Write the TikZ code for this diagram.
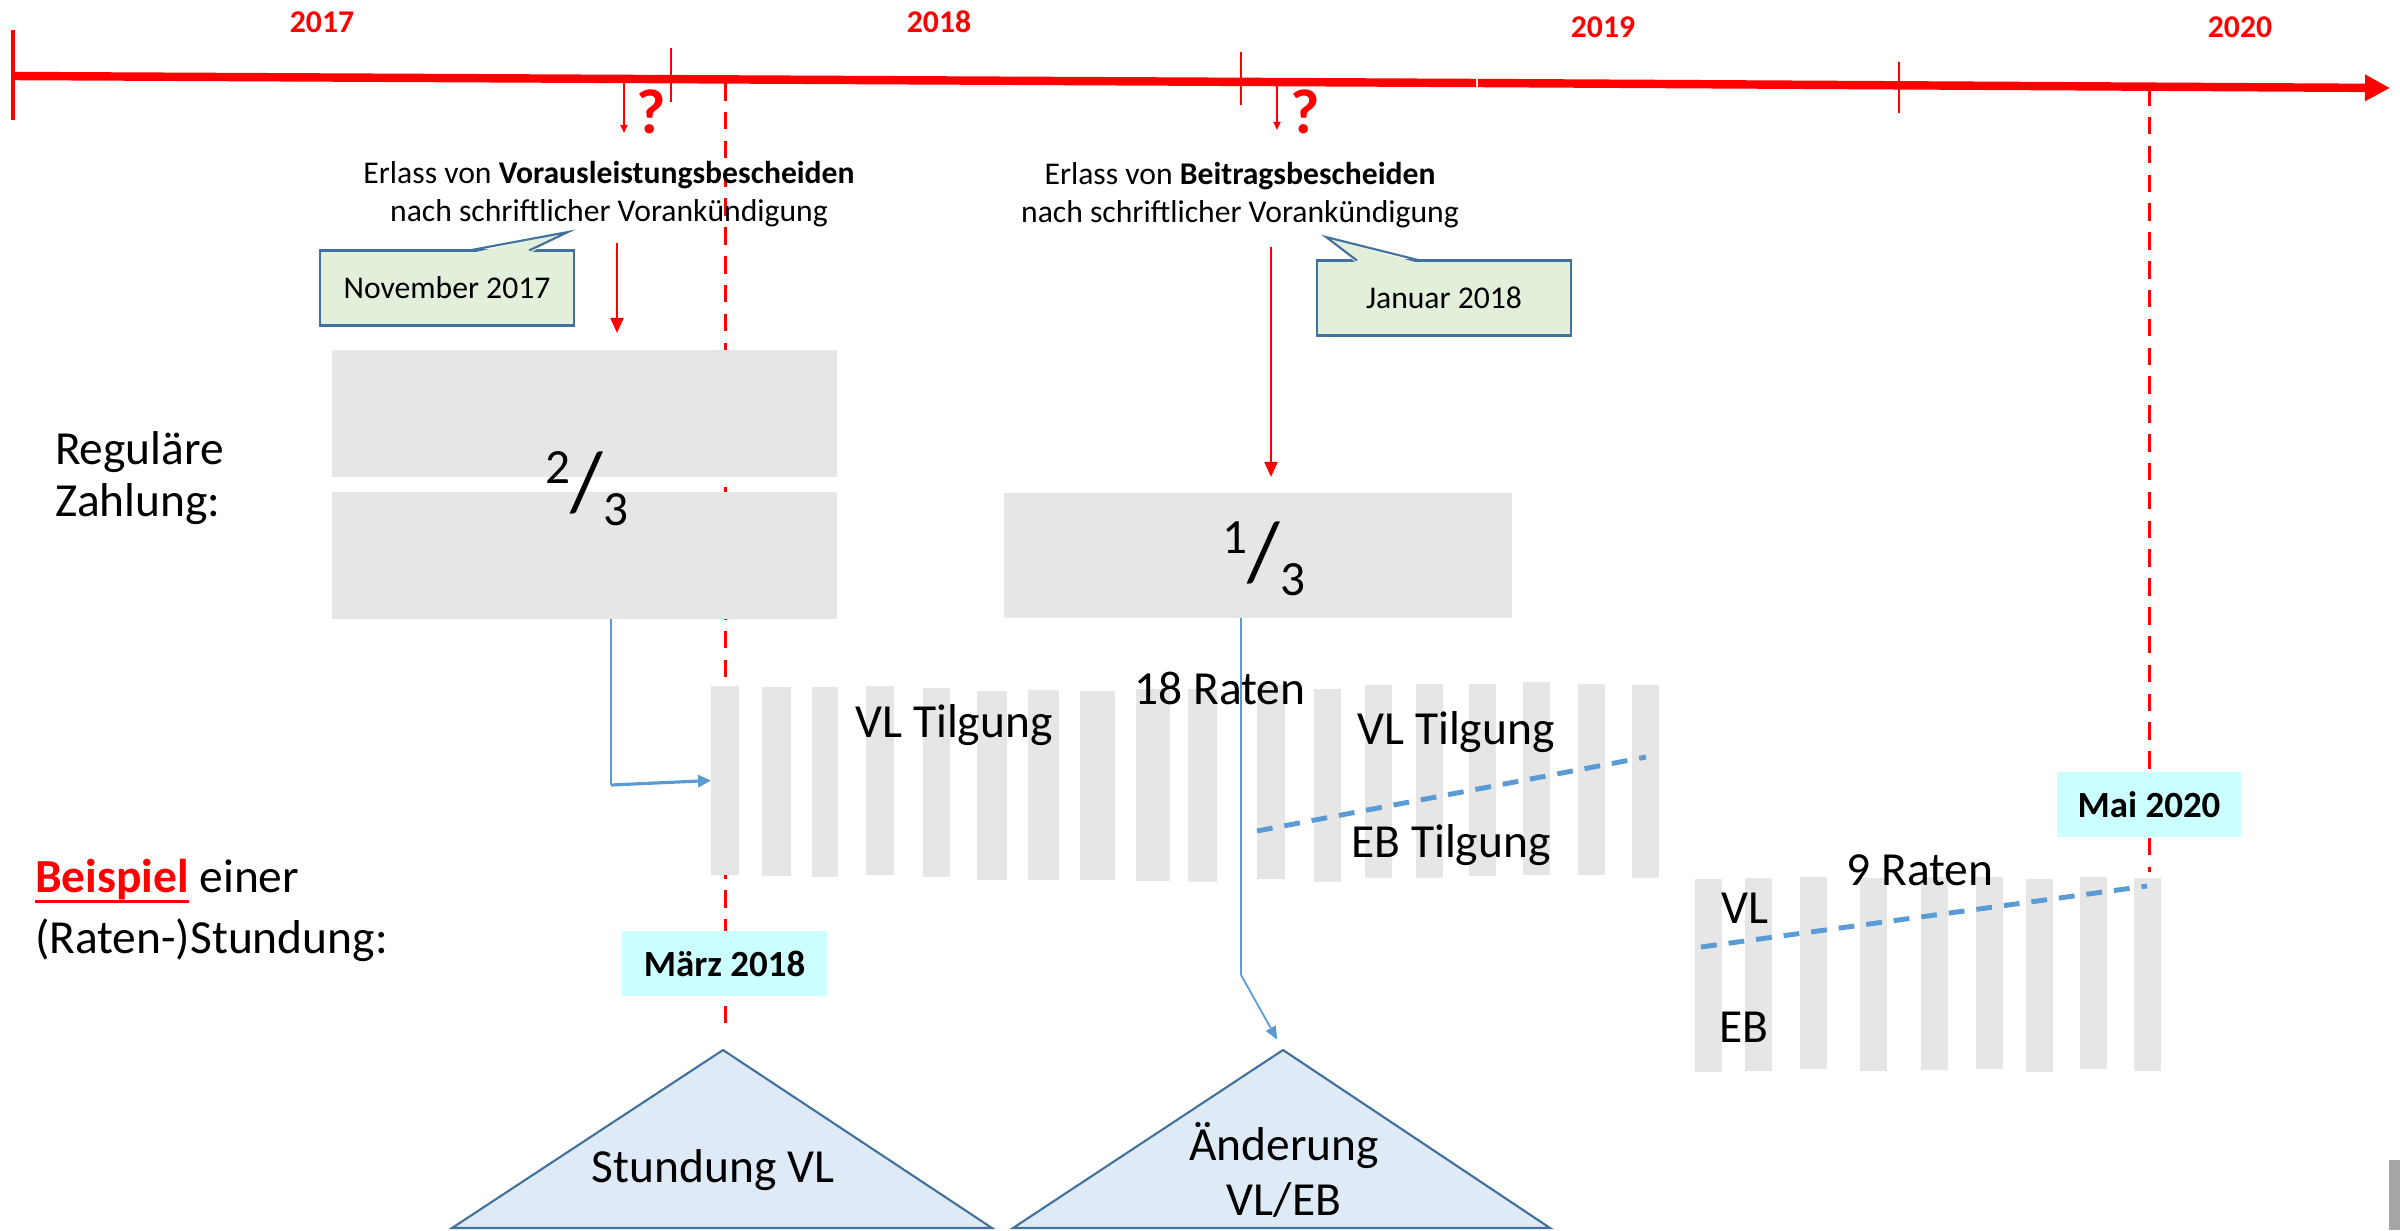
\documentclass[tikz,border=0pt]{standalone}
\usepackage{fontspec}
\setmainfont{Carlito}
\usetikzlibrary{arrows.meta}
\definecolor{PlanRed}{RGB}{255,0,0}
\definecolor{PlanGrey}{RGB}{230,230,230}
\definecolor{PlanGreen}{RGB}{226,239,218}
\definecolor{PlanFrame}{RGB}{65,113,156}
\definecolor{PlanSky}{RGB}{222,235,247}
\definecolor{PlanCyan}{RGB}{204,255,255}
\definecolor{PlanBlue}{RGB}{91,155,213}
\definecolor{PlanScroll}{RGB}{166,166,166}
\newcommand\PlanLarge{\fontsize{13.5}{15}\selectfont}
\newcommand\PlanSmall{\fontsize{9}{10.8}\selectfont}
\newcommand\PlanShare[2]{{\fontsize{14}{14}\selectfont\raisebox{7.6pt}{#1}}{\fontsize{24}{24}\selectfont/}{\fontsize{14}{14}\selectfont\raisebox{-4.3pt}{#2}}}
\newsavebox\PlanBox
\newcommand\PlanMark[1]{\sbox\PlanBox{#1}\rlap{\rule[-3.2pt]{\wd\PlanBox}{1pt}}\usebox\PlanBox}
\tikzset{
    plan/diagram/.style={
        x=0.01cm, y=-0.01cm,
        line cap=butt,
        every node/.style={inner sep=0pt, outer sep=0pt}
    },
    plan/axis/.style={draw=PlanRed, line width=2.4pt},
    plan/tick/.style={draw=PlanRed, line width=0.6pt},
    plan/due/.style={draw=PlanRed, line width=0.85pt, dash pattern=on 5pt off 3.2pt},
    plan/pin/.style={
        draw=PlanRed, line width=0.5pt,
        -{Triangle[length=0.08cm, width=0.07cm]}
    },
    plan/pointer/.style={
        draw=PlanRed, line width=0.6pt,
        -{Triangle[length=0.15cm, width=0.13cm]}
    },
    plan/year/.style={text=PlanRed, font=\fontsize{9}{10}\selectfont\bfseries},
    plan/query/.style={text=PlanRed, font=\fontsize{18}{19}\selectfont\bfseries},
    plan/note/.style={align=center, font=\PlanSmall},
    plan/callout/.style={
        fill=PlanGreen, draw=PlanFrame, line width=0.6pt,
        minimum width=2.54cm, minimum height=0.75cm, font=\PlanSmall
    },
    plan/frame/.style={draw=PlanFrame, line width=0.6pt, line join=miter},
    plan/share/.style={fill=PlanGrey, minimum width=5.05cm, minimum height=1.27cm},
    plan/bar/.style={fill=PlanGrey},
    plan/label/.style={font=\PlanLarge},
    plan/stamp/.style={
        fill=PlanCyan, minimum height=0.65cm,
        font=\fontsize{10.5}{12}\selectfont\bfseries
    },
    plan/wedge/.style={fill=PlanSky, draw=PlanFrame, line width=0.6pt, line join=miter},
    plan/link/.style={draw=PlanBlue, line width=0.35pt},
    plan/linkarrow/.style={
        draw=PlanBlue, line width=0.9pt,
        -{Triangle[length=0.13cm, width=0.12cm]}
    },
    plan/split/.style={draw=PlanBlue, line width=1.4pt, dash pattern=on 4.5pt off 3.4pt}
}

\begin{document}
\begin{tikzpicture}[plan/diagram]
    \useasboundingbox (0,0) rectangle (2400,1230);
    % time axis
    \draw[plan/axis] (13,76) -- (1476,83);
    \draw[plan/axis, -{Triangle[length=0.25cm, width=0.25cm]}] (1478,83) -- (2390,88);
    \draw[plan/tick, line width=1.2pt] (13,30) -- (13,120);
    \draw[plan/tick] (671,48) -- (671,102);
    \draw[plan/tick] (1241,52) -- (1241,105);
    \draw[plan/tick] (1899,62) -- (1899,113);
    \node[plan/year] (y2017) at (322,22) {2017};
    \node[plan/year] (y2018) at (939,22) {2018};
    \node[plan/year] (y2019) at (1603,27) {2019};
    \node[plan/year] (y2020) at (2240,27) {2020};
    % due dates
    \draw[plan/due] (725,83) -- (725,1025);
    \draw[plan/due] (2149,88) -- (2149,872);
    \draw[plan/pin] (624,82) -- (624,133);
    \node[plan/query] (askVor) at (651,112) {?};
    \draw[plan/pin] (1277,85) -- (1277,130);
    \node[plan/query] (askBei) at (1305,112) {?};
    % notices
    \node[plan/note] (vorNote) at (609,194)
        {Erlass von \textbf{Vorausleistungsbescheiden}\\nach schriftlicher Vorankündigung};
    \node[plan/note] (beiNote) at (1240,195)
        {Erlass von \textbf{Beitragsbescheiden}\\nach schriftlicher Vorankündigung};
    \node[plan/callout] (novCall) at (447,288) {November 2017};
    \fill[PlanGreen] ([xshift=1.49cm, yshift=-0.03cm]novCall.north west) -- (568,232)
        -- ([xshift=2.09cm, yshift=-0.03cm]novCall.north west) -- cycle;
    \draw[plan/frame] ([xshift=1.49cm]novCall.north west) -- (568,232)
        -- ([xshift=2.09cm]novCall.north west);
    \node[plan/callout] (janCall) at (1444,298) {Januar 2018};
    \fill[PlanGreen] ([xshift=0.40cm, yshift=-0.03cm]janCall.north west) -- (1326,237)
        -- ([xshift=1.03cm, yshift=-0.03cm]janCall.north west) -- cycle;
    \draw[plan/frame] ([xshift=0.40cm]janCall.north west) -- (1326,237)
        -- ([xshift=1.03cm]janCall.north west);
    % regular payment
    \node[plan/share] (shareTop) at (584.5,413.5) {};
    \node[plan/share] (shareLow) at (584.5,555.5) {};
    \node[plan/share, minimum width=5.08cm, minimum height=1.25cm] (shareThird) at (1258,555.5) {};
    \node (twoThirds) at (587,489) {\PlanShare{2}{3}};
    \node (oneThird) at (1264,559) {\PlanShare{1}{3}};
    \coordinate (vorDrop) at (617,243);
    \draw[plan/pointer, shorten >=0.17cm] (vorDrop) -- (vorDrop |- shareTop.north);
    \coordinate (beiDrop) at (1271,247);
    \draw[plan/pointer, shorten >=0.16cm] (beiDrop) -- (beiDrop |- shareThird.north);
    \node[plan/label, anchor=west, align=left] (regular) at (55,478) {Reguläre\\Zahlung:};
    \node[plan/label, anchor=west, align=left, font=\fontsize{13.5}{17.3}\selectfont] (example) at (35,910)
        {\textcolor{PlanRed}{\PlanMark{\textbf{Beispiel}}} einer\\(Raten-)Stundung:};
    % instalments
    \foreach \x/\w/\t/\b [count=\i] in {711/28/686/875, 762/29/687/876, 812/26/687/877,
        866/28/686/875, 923/27/688/877, 977/30/691/880, 1028/31/690/880, 1080/35/691/880,
        1136/34/689/881, 1188/29/689/882, 1257/28/685/879, 1314/27/689/882, 1365/27/685/878,
        1416/27/684/878, 1469/27/684/876, 1523/27/682/875, 1578/27/684/875, 1632/27/685/878}
        \node[plan/bar, minimum width=\w*0.01cm, minimum height={(\b-\t)*0.01cm}]
            (vl\i) at ({\x+\w/2},{(\t+\b)/2}) {};
    \foreach \x/\t/\b [count=\i] in {1695/879/1072, 1745/878/1071, 1800/877/1069,
        1860/878/1071, 1921/877/1070, 1976/877/1069, 2026/879/1072, 2080/877/1069, 2134/878/1071}
        \node[plan/bar, minimum width=0.27cm, minimum height={(\b-\t)*0.01cm}]
            (rate\i) at ({\x+13.5},{(\t+\b)/2}) {};
    \node[plan/label] (vlFirst) at (954,725) {VL Tilgung};
    \node[plan/label] (rateCount) at (1220,688) {18 Raten};
    \node[plan/label] (vlSecond) at (1456,732) {VL Tilgung};
    \node[plan/label] (ebSecond) at (1451,845) {EB Tilgung};
    \draw[plan/split] (1257,831) -- (1646,757);
    \node[plan/label] (rateShort) at (1920,870) {9 Raten};
    \node[plan/label] (vlShort) at (1745,908) {VL};
    \node[plan/label] (ebShort) at (1744,1027) {EB};
    \draw[plan/split] (1701,947) -- (2147,886);
    \node[plan/stamp, minimum width=2.05cm] (marchStamp) at (724.5,963.5) {März 2018};
    \node[plan/stamp, minimum width=1.84cm] (mayStamp) at (2149,804.5) {Mai 2020};
    % deferral
    \coordinate (stuTop) at (723,1050);
    \draw[plan/wedge] (stuTop) -- ++(-271,178) -- ++(540,0) -- cycle;
    \node[plan/label] (stuText) at (713,1170) {Stundung VL};
    \coordinate (aenTop) at (1283,1050);
    \draw[plan/wedge] (aenTop) -- ++(-270,178) -- ++(537,0) -- cycle;
    \node[plan/label, align=center, font=\fontsize{13.5}{15.9}\selectfont] (aenText) at (1284,1170)
        {Änderung\\VL/EB};
    \coordinate (vlBend) at (611,785);
    \draw[plan/link] (shareLow.south -| vlBend) -- (vlBend);
    \draw[plan/linkarrow] (vlBend) -- (vl1.west);
    \coordinate (ebBend) at (1241,975);
    \draw[plan/link] (shareThird.south -| ebBend) -- (ebBend);
    \draw[plan/link, line width=0.5pt, -{Triangle[length=0.13cm, width=0.11cm]}, shorten >=0.12cm]
        (ebBend) -- (aenTop);
    \fill[PlanScroll] (2389,1160) rectangle (2400,1230);
\end{tikzpicture}
\end{document}
